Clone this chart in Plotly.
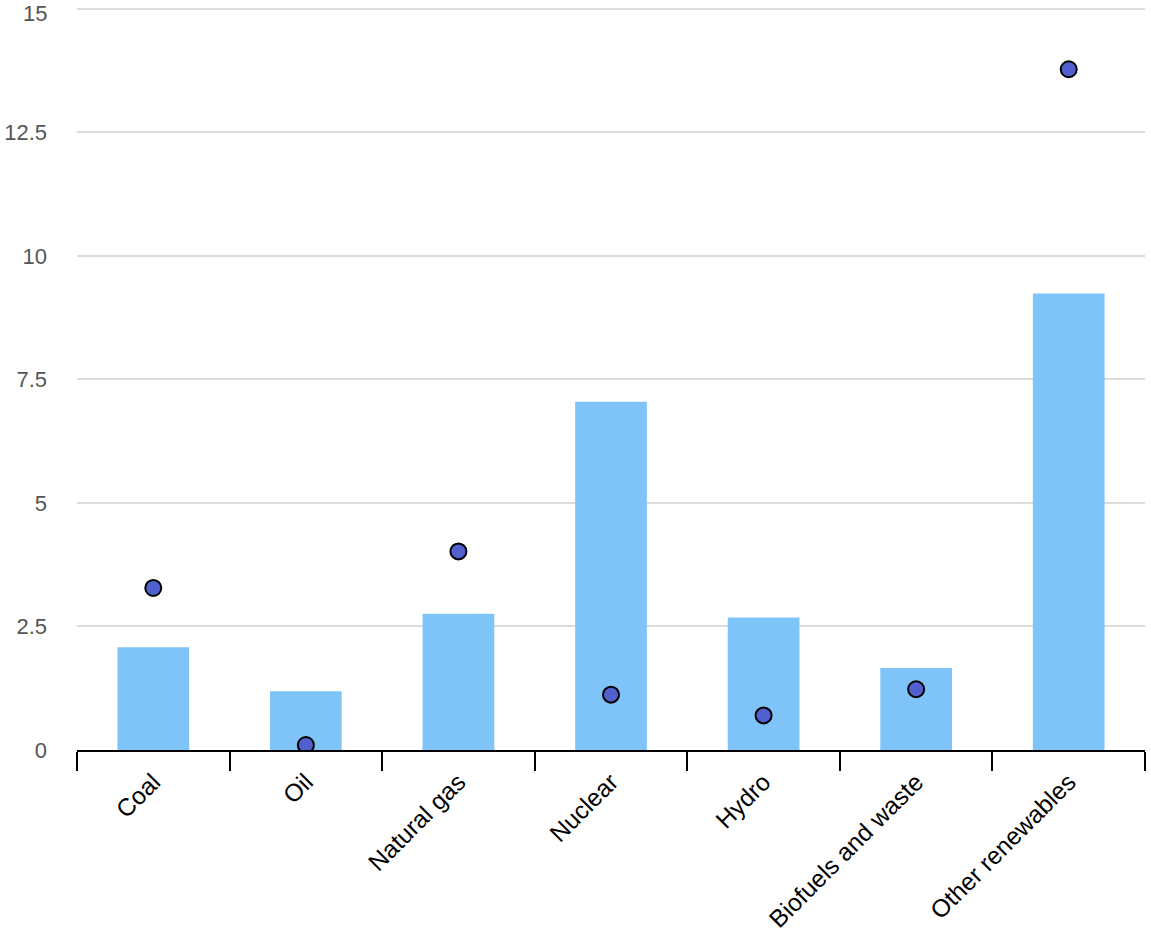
import plotly.graph_objects as go

categories = ["Coal", "Oil", "Natural gas", "Nuclear", "Hydro", "Biofuels and waste", "Other renewables"]
bar_values = [2.08, 1.19, 2.76, 7.05, 2.68, 1.66, 9.24]
dot_values = [3.28, 0.1, 4.02, 1.12, 0.7, 1.23, 13.78]
y_ticks = [0, 2.5, 5, 7.5, 10, 12.5, 15]
y_tick_labels = ["0", "2.5", "5", "7.5", "10", "12.5", "15"]

fig = go.Figure()
fig.add_trace(go.Bar(
    x=categories, y=bar_values,
    marker=dict(color="#7fc4f9", line=dict(width=0)),
    width=0.47, showlegend=False,
))
fig.add_trace(go.Scatter(
    x=categories, y=dot_values, mode="markers",
    marker=dict(color="#5061cf", size=16, line=dict(color="black", width=2)),
    showlegend=False,
))

# top label drawn as annotation, nudged down so it stays inside the page
tick_text = y_tick_labels[:-1] + [""]
fig.add_annotation(
    x=0, xref="paper", y=y_ticks[-1], yref="y",
    text=y_tick_labels[-1], showarrow=False,
    xanchor="right", yanchor="middle", xshift=-28, yshift=-5,
    font=dict(size=22, color="#555555", family="Liberation Sans, Arial, sans-serif"),
)

fig.update_layout(
    width=1151, height=933,
    margin=dict(l=77, r=6, t=6, b=183),
    plot_bgcolor="white", paper_bgcolor="white",
    font=dict(family="Liberation Sans, Arial, sans-serif", color="black"),
    xaxis=dict(
        type="category",
        automargin=False,
        tickson="boundaries",
        ticks="outside", ticklen=19, tickwidth=2, tickcolor="black",
        showline=True, linecolor="black", linewidth=2,
        showgrid=False,
        tickangle=-45,
        tickfont=dict(size=24.5, color="black"),
        ticklabelstandoff=6,
        range=[-0.5, 6.5],
    ),
    yaxis=dict(
        automargin=False,
        range=[0, 15.06],
        tickvals=y_ticks, ticktext=tick_text,
        showgrid=True, gridcolor="#dcdcdc", gridwidth=1.5,
        zeroline=False, showline=False,
        tickfont=dict(size=22, color="#555555"),
        ticklabelstandoff=29,
        ticklabeloverflow="allow",
    ),
)

fig.write_html(
    "out.html",
    config={"displayModeBar": False},
    post_script=(
        "document.documentElement.style.margin='0px';"
        "document.body.style.margin='0px';"
        "document.documentElement.style.overflow='hidden';"
        "window.scrollTo(0,0);"
    ),
)
